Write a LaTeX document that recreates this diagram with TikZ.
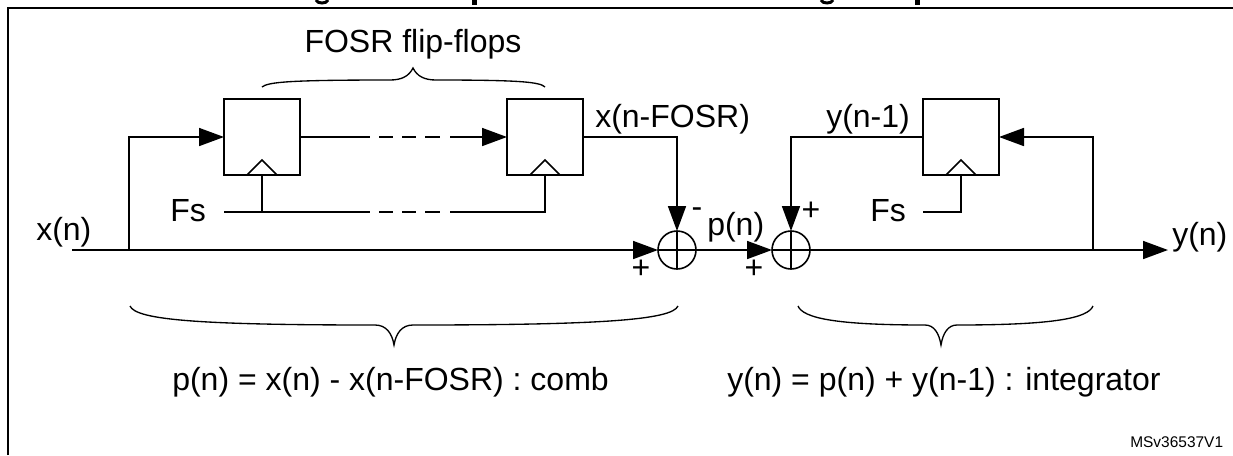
\documentclass[tikz,border=0pt]{standalone}
\usepackage{fontspec}
\setmainfont{Liberation Sans}
\usepackage{xcolor}
\usepackage{tikz}
\usetikzlibrary{arrows.meta,positioning,calc}
\tikzset{
  frameline/.style={line width=2.2pt},
  ff/.style={draw,minimum size=57pt,inner sep=0pt,outer sep=0pt,line width=1.2pt},
  sumnode/.style={draw,circle,minimum size=28.5pt,inner sep=0pt,outer sep=0pt,line width=1.2pt},
  wire/.style={line width=1.3pt},
  arr/.style={-{Triangle[length=18.75pt,width=13.5pt]},line width=1.3pt},
  lbl/.style={font=\fontsize{24}{28}\selectfont,inner sep=0pt,anchor=base west},
  sgn/.style={font=\fontsize{24}{28}\selectfont,inner sep=0pt},
  bracepath/.style={line width=1pt},
  gapped/.style={dash pattern=on #1 off 6.75pt on 10.5pt off 6.75pt on 10.5pt off 6.75pt on 11.25pt off 7.5pt on 300pt},
}
\begin{document}
\begin{tikzpicture}[x=0.75pt,y=-0.75pt]
\useasboundingbox (0,0) rectangle (1233,455);
\draw[frameline] (8,455) -- (8,8) -- (1233,8);
\draw[line width=2.2pt] (316,0) .. controls (317,4) and (327,4) .. (328,0);
\draw[line width=2.2pt] (821,0) .. controls (822,4) and (832,4) .. (833,0);
\fill (472,0) rectangle (477,4.5);
\fill (915,0) rectangle (920,4.5);
\node[ff] (ffa) at (262,137) {};
\node[ff, right=155.25pt of ffa] (ffb) {};
\node[ff, right=255pt of ffb] (ffc) {};
\node[sumnode] (suma) at (677,250) {};
\node[sumnode, right=57pt of suma] (sumb) {};
\draw[line width=1.2pt] (suma.north) -- (suma.south) (suma.west) -- (suma.east);
\draw[line width=1.2pt] (sumb.north) -- (sumb.south) (sumb.west) -- (sumb.east);
\foreach \ffname in {ffa,ffb,ffc}
  \draw[line width=1.2pt] ($(\ffname.south)+(-15,0)$) -- ($(\ffname.south)+(0,-15)$) -- ($(\ffname.south)+(15,0)$);
\coordinate (xin) at (72,250);
\coordinate (xtap) at (129,250);
\coordinate (ytap) at (1093,250);
\coordinate (yout) at (1168,250);
\coordinate (fsa) at (224,212);
\coordinate (fsb) at (923,212);
\draw[arr] (xin) -- (suma.west);
\draw[arr] (xtap) |- (ffa.west);
\draw[arr,gapped=52.5pt] (ffa.east) -- (ffb.west);
\draw[wire,gapped=109.5pt] (fsa) -| (ffb.south);
\draw[wire] (ffa.south) -- (ffa.south |- fsa);
\draw[arr] (ffb.east) -| (suma.north);
\draw[arr] (suma.east) -- (sumb.west);
\draw[arr] (ffc.west) -| (sumb.north);
\draw[wire] (fsb) -| (ffc.south);
\draw[arr] (sumb.east) -- (yout);
\draw[arr] (ytap) |- (ffc.east);
\node[lbl] (xnlabel) at (36,240) {x(n)};
\node[lbl] (fsalabel) at (170,221) {Fs};
\node[lbl] (fsblabel) at (870,221) {Fs};
\node[lbl] (xdlabel) at (595,127) {x(n-FOSR)};
\node[lbl] (ydlabel) at (826,127) {y(n-1)};
\node[lbl] (pnlabel) at (707,235) {p(n)};
\node[lbl] (ynlabel) at (1172,245) {y(n)};
\node[sgn] (plusa) at (641,269) {+};
\node[sgn] (plusb) at (754,269) {+};
\node[sgn] (minusa) at (697,213) {-};
\node[sgn] (plusc) at (811,211) {+};
\draw[bracepath] (262,87) .. controls (268,82) and (290,80) .. (390,80) .. controls (402,80) and (409,76) .. (413,68) .. controls (417,76) and (424,80) .. (436,80) .. controls (520,80) and (540,82) .. (545,87);
\draw[bracepath] (130,306) .. controls (136,320) and (200,325) .. (375,325) .. controls (386,325) and (392,333) .. (394,345) .. controls (396,333) and (402,325) .. (413,325) .. controls (600,325) and (672,320) .. (678,306);
\draw[bracepath] (798,306) .. controls (803,318) and (835,325) .. (925,325) .. controls (934,325) and (939,333) .. (941,345) .. controls (943,333) and (948,325) .. (957,325) .. controls (1055,325) and (1088,318) .. (1093,306);
\node[lbl, anchor=base] (bracetop) at (413,52) {FOSR flip-flops};
\node[lbl] (combeq) at (172,390) {p(n) = x(n) - x(n-FOSR) : comb};
\node[lbl] (integeq) at (727,390) {y(n) = p(n) + y(n-1) : integrator};
\node[lbl, font=\fontsize{11.6}{14}\selectfont] (msv) at (1130,447) {MSv36537V1};
\end{tikzpicture}
\end{document}
